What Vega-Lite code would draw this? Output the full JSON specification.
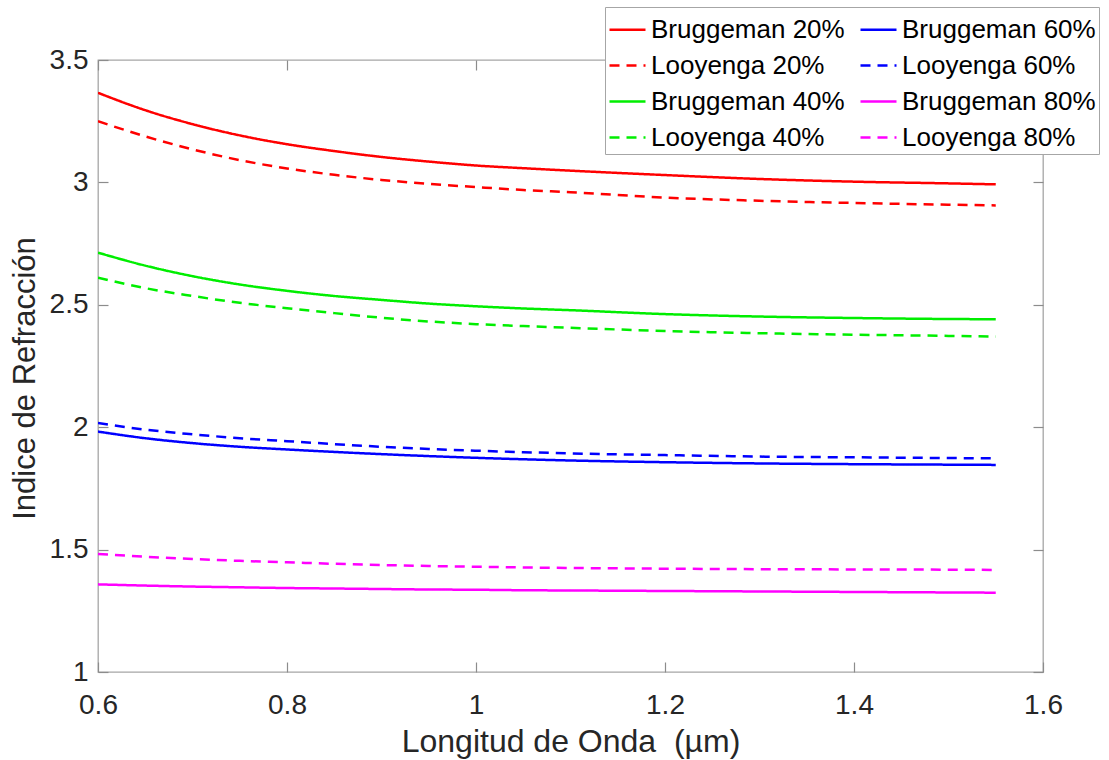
{
  "$schema": "https://vega.github.io/schema/vega-lite/v6.json",
  "width": 945,
  "height": 612,
  "autosize": "none",
  "padding": {"left": 98, "top": 60, "right": 66, "bottom": 88},
  "background": "white",
  "config": {
    "font": "Liberation Sans",
    "view": {"stroke": "#a6a6a6", "strokeWidth": 1.3}
  },
  "data": {
    "values": [
      {"lambda": 0.6,  "Bruggeman 20%": 3.366, "Looyenga 20%": 3.250, "Bruggeman 40%": 2.713, "Looyenga 40%": 2.611, "Bruggeman 60%": 1.982, "Looyenga 60%": 2.017, "Bruggeman 80%": 1.358, "Looyenga 80%": 1.482},
      {"lambda": 0.65, "Bruggeman 20%": 3.295, "Looyenga 20%": 3.188, "Bruggeman 40%": 2.660, "Looyenga 40%": 2.568, "Bruggeman 60%": 1.955, "Looyenga 60%": 1.990, "Bruggeman 80%": 1.353, "Looyenga 80%": 1.471},
      {"lambda": 0.7,  "Bruggeman 20%": 3.238, "Looyenga 20%": 3.135, "Bruggeman 40%": 2.617, "Looyenga 40%": 2.536, "Bruggeman 60%": 1.935, "Looyenga 60%": 1.971, "Bruggeman 80%": 1.349, "Looyenga 80%": 1.462},
      {"lambda": 0.75, "Bruggeman 20%": 3.192, "Looyenga 20%": 3.091, "Bruggeman 40%": 2.583, "Looyenga 40%": 2.508, "Bruggeman 60%": 1.920, "Looyenga 60%": 1.955, "Bruggeman 80%": 1.346, "Looyenga 80%": 1.454},
      {"lambda": 0.8,  "Bruggeman 20%": 3.156, "Looyenga 20%": 3.057, "Bruggeman 40%": 2.557, "Looyenga 40%": 2.486, "Bruggeman 60%": 1.909, "Looyenga 60%": 1.943, "Bruggeman 80%": 1.343, "Looyenga 80%": 1.448},
      {"lambda": 0.85, "Bruggeman 20%": 3.128, "Looyenga 20%": 3.031, "Bruggeman 40%": 2.536, "Looyenga 40%": 2.466, "Bruggeman 60%": 1.899, "Looyenga 60%": 1.931, "Bruggeman 80%": 1.341, "Looyenga 80%": 1.442},
      {"lambda": 0.9,  "Bruggeman 20%": 3.104, "Looyenga 20%": 3.010, "Bruggeman 40%": 2.520, "Looyenga 40%": 2.447, "Bruggeman 60%": 1.890, "Looyenga 60%": 1.920, "Bruggeman 80%": 1.339, "Looyenga 80%": 1.437},
      {"lambda": 0.95, "Bruggeman 20%": 3.085, "Looyenga 20%": 2.994, "Bruggeman 40%": 2.505, "Looyenga 40%": 2.432, "Bruggeman 60%": 1.882, "Looyenga 60%": 1.911, "Bruggeman 80%": 1.337, "Looyenga 80%": 1.433},
      {"lambda": 1.0,  "Bruggeman 20%": 3.069, "Looyenga 20%": 2.981, "Bruggeman 40%": 2.494, "Looyenga 40%": 2.421, "Bruggeman 60%": 1.875, "Looyenga 60%": 1.904, "Bruggeman 80%": 1.336, "Looyenga 80%": 1.430},
      {"lambda": 1.05, "Bruggeman 20%": 3.058, "Looyenga 20%": 2.969, "Bruggeman 40%": 2.485, "Looyenga 40%": 2.413, "Bruggeman 60%": 1.869, "Looyenga 60%": 1.898, "Bruggeman 80%": 1.334, "Looyenga 80%": 1.427},
      {"lambda": 1.1,  "Bruggeman 20%": 3.048, "Looyenga 20%": 2.960, "Bruggeman 40%": 2.478, "Looyenga 40%": 2.406, "Bruggeman 60%": 1.864, "Looyenga 60%": 1.893, "Bruggeman 80%": 1.333, "Looyenga 80%": 1.425},
      {"lambda": 1.2,  "Bruggeman 20%": 3.030, "Looyenga 20%": 2.938, "Bruggeman 40%": 2.462, "Looyenga 40%": 2.393, "Bruggeman 60%": 1.857, "Looyenga 60%": 1.886, "Bruggeman 80%": 1.331, "Looyenga 80%": 1.422},
      {"lambda": 1.3,  "Bruggeman 20%": 3.014, "Looyenga 20%": 2.925, "Bruggeman 40%": 2.452, "Looyenga 40%": 2.384, "Bruggeman 60%": 1.852, "Looyenga 60%": 1.880, "Bruggeman 80%": 1.329, "Looyenga 80%": 1.420},
      {"lambda": 1.4,  "Bruggeman 20%": 3.003, "Looyenga 20%": 2.916, "Bruggeman 40%": 2.446, "Looyenga 40%": 2.378, "Bruggeman 60%": 1.849, "Looyenga 60%": 1.877, "Bruggeman 80%": 1.327, "Looyenga 80%": 1.419},
      {"lambda": 1.5,  "Bruggeman 20%": 2.996, "Looyenga 20%": 2.909, "Bruggeman 40%": 2.442, "Looyenga 40%": 2.373, "Bruggeman 60%": 1.847, "Looyenga 60%": 1.874, "Bruggeman 80%": 1.325, "Looyenga 80%": 1.418},
      {"lambda": 1.55, "Bruggeman 20%": 2.992, "Looyenga 20%": 2.906, "Bruggeman 40%": 2.441, "Looyenga 40%": 2.370, "Bruggeman 60%": 1.846, "Looyenga 60%": 1.873, "Bruggeman 80%": 1.324, "Looyenga 80%": 1.417}
    ]
  },
  "transform": [
    {"fold": ["Bruggeman 20%", "Looyenga 20%", "Bruggeman 40%", "Looyenga 40%", "Bruggeman 60%", "Looyenga 60%", "Bruggeman 80%", "Looyenga 80%"], "as": ["serie", "n"]}
  ],
  "layer": [
    {
      "mark": {"type": "line", "strokeWidth": 2.5, "interpolate": "monotone", "clip": true},
      "encoding": {
        "x": {
          "field": "lambda", "type": "quantitative",
          "scale": {"domain": [0.6, 1.6], "nice": false, "zero": false},
          "axis": {
            "orient": "bottom", "title": "Longitud de Onda\u00a0 (µm)",
            "values": [0.6, 0.8, 1.0, 1.2, 1.4, 1.6], "format": "~g",
            "domain": false, "grid": false,
            "tickSize": -10, "tickColor": "#8c8c8c", "tickWidth": 1.2,
            "labelPadding": 29, "labelFontSize": 28, "labelColor": "#262626", "labelFlush": false,
            "titleFontSize": 32, "titleFontWeight": "normal", "titleColor": "#262626", "titlePadding": 7
          }
        },
        "y": {
          "field": "n", "type": "quantitative",
          "scale": {"domain": [1, 3.5], "nice": false, "zero": false},
          "axis": {
            "orient": "left", "title": "Indice de Refracción",
            "values": [1, 1.5, 2, 2.5, 3, 3.5], "format": "~g",
            "domain": false, "grid": false,
            "tickSize": -10, "tickColor": "#8c8c8c", "tickWidth": 1.2,
            "labelPadding": 20, "labelFontSize": 28, "labelColor": "#262626", "labelFlush": false,
            "titleFontSize": 31, "titleFontWeight": "normal", "titleColor": "#262626", "titlePadding": 8,
            "titleY": 318
          }
        },
        "color": {
          "field": "serie", "type": "nominal",
          "scale": {
            "domain": ["Bruggeman 20%", "Looyenga 20%", "Bruggeman 40%", "Looyenga 40%", "Bruggeman 60%", "Looyenga 60%", "Bruggeman 80%", "Looyenga 80%"],
            "range": ["#ff0000", "#ff0000", "#00ee00", "#00ee00", "#0000ff", "#0000ff", "#ff00ff", "#ff00ff"]
          },
          "legend": {
            "title": null, "orient": "none", "legendX": 507, "legendY": -53, "columns": 2,
            "values": ["Bruggeman 20%", "Looyenga 20%", "Bruggeman 40%", "Looyenga 40%", "Bruggeman 60%", "Looyenga 60%", "Bruggeman 80%", "Looyenga 80%"],
            "symbolType": "stroke", "symbolSize": 1296, "symbolStrokeWidth": 2.5,
            "labelFontSize": 26, "labelColor": "#000000", "labelOffset": 4, "labelLimit": 400,
            "rowPadding": 3, "columnPadding": 10, "padding": 3,
            "fillColor": "white", "strokeColor": "#a6a6a6"
          }
        },
        "strokeDash": {
          "field": "serie", "type": "nominal",
          "scale": {
            "domain": ["Bruggeman 20%", "Looyenga 20%", "Bruggeman 40%", "Looyenga 40%", "Bruggeman 60%", "Looyenga 60%", "Bruggeman 80%", "Looyenga 80%"],
            "range": [[1, 0], [10, 7], [1, 0], [10, 7], [1, 0], [10, 7], [1, 0], [10, 7]]
          },
          "legend": {
            "title": null, "orient": "none", "legendX": 507, "legendY": -53, "columns": 2,
            "values": ["Bruggeman 20%", "Looyenga 20%", "Bruggeman 40%", "Looyenga 40%", "Bruggeman 60%", "Looyenga 60%", "Bruggeman 80%", "Looyenga 80%"],
            "symbolType": "stroke", "symbolSize": 1296, "symbolStrokeWidth": 2.5,
            "labelFontSize": 26, "labelColor": "#000000", "labelOffset": 4, "labelLimit": 400,
            "rowPadding": 3, "columnPadding": 10, "padding": 3,
            "fillColor": "white", "strokeColor": "#a6a6a6"
          }
        }
      }
    },
    {
      "mark": {"type": "line", "opacity": 0},
      "encoding": {
        "x": {
          "field": "lambda", "type": "quantitative",
          "axis": {"orient": "top", "title": null, "labels": false, "domain": false, "grid": false,
                   "values": [0.6, 0.8, 1.0, 1.2, 1.4, 1.6], "tickSize": -10, "tickColor": "#8c8c8c", "tickWidth": 1.2}
        },
        "y": {
          "field": "n", "type": "quantitative",
          "axis": {"orient": "right", "title": null, "labels": false, "domain": false, "grid": false,
                   "values": [1, 1.5, 2, 2.5, 3, 3.5], "tickSize": -10, "tickColor": "#8c8c8c", "tickWidth": 1.2}
        },
        "detail": {"field": "serie", "type": "nominal"}
      }
    }
  ],
  "resolve": {"axis": {"x": "independent", "y": "independent"}}
}
